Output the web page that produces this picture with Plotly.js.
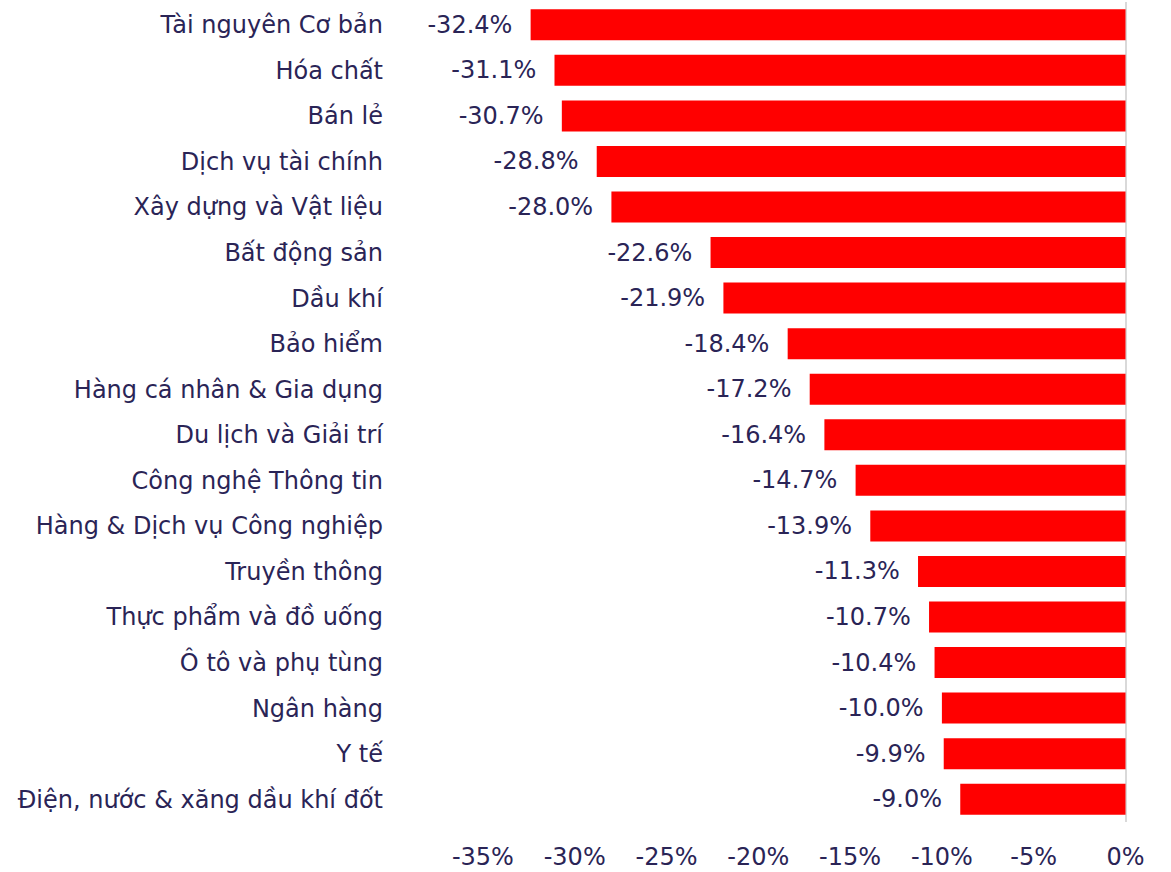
<!DOCTYPE html>
<html><head><meta charset="utf-8">
<script src="https://cdn.plot.ly/plotly-3.0.1.min.js"></script>
<style>html,body{margin:0;padding:0;background:#fff}</style>
</head><body>
<div id="chart" style="width:1171px;height:872px"></div>
<script>
const categories = ["Tài nguyên Cơ bản","Hóa chất","Bán lẻ","Dịch vụ tài chính","Xây dựng và Vật liệu","Bất động sản","Dầu khí","Bảo hiểm","Hàng cá nhân & Gia dụng","Du lịch và Giải trí","Công nghệ Thông tin","Hàng & Dịch vụ Công nghiệp","Truyền thông","Thực phẩm và đồ uống","Ô tô và phụ tùng","Ngân hàng","Y tế","Điện, nước & xăng dầu khí đốt"];
const values = [-32.4,-31.1,-30.7,-28.8,-28.0,-22.6,-21.9,-18.4,-17.2,-16.4,-14.7,-13.9,-11.3,-10.7,-10.4,-10.0,-9.9,-9.0];
const tickVals = [-35,-30,-25,-20,-15,-10,-5,0];
const tickText = ["-35%","-30%","-25%","-20%","-15%","-10%","-5%","0%"];

const textColor = "#2a2456";
const fontFam = "'DejaVu Sans', sans-serif";

const trace = {
  type: "bar", orientation: "h",
  x: values, y: categories,
  marker: {color: "#ff0000"},
  text: values.map(v => v.toFixed(1) + "%\u00a0\u00a0"),
  textposition: "outside",
  textfont: {family: fontFam, size: 24, color: textColor},
  cliponaxis: false,
  hoverinfo: "skip"
};

const layout = {
  width: 1171, height: 872,
  margin: {l: 392, r: 41, t: 2, b: 50},
  paper_bgcolor: "#fff", plot_bgcolor: "#fff",
  showlegend: false,
  bargap: 0.32,
  font: {family: fontFam, size: 24, color: textColor},
  xaxis: {
    range: [-39.95, 0.245],
    tickvals: tickVals, ticktext: tickText,
    showgrid: false, zeroline: true, zerolinecolor: "#d9d9d9", zerolinewidth: 2,
    showline: false, ticks: "", ticklabelstandoff: 18,
    tickfont: {family: fontFam, size: 24, color: textColor}
  },
  yaxis: {
    autorange: "reversed", type: "category",
    showgrid: false, showline: false, ticks: "", ticklabelstandoff: 8,
    tickfont: {family: fontFam, size: 24, color: textColor}
  }
};
Plotly.newPlot("chart", [trace], layout, {displayModeBar: false, staticPlot: true});
</script>
</body></html>
